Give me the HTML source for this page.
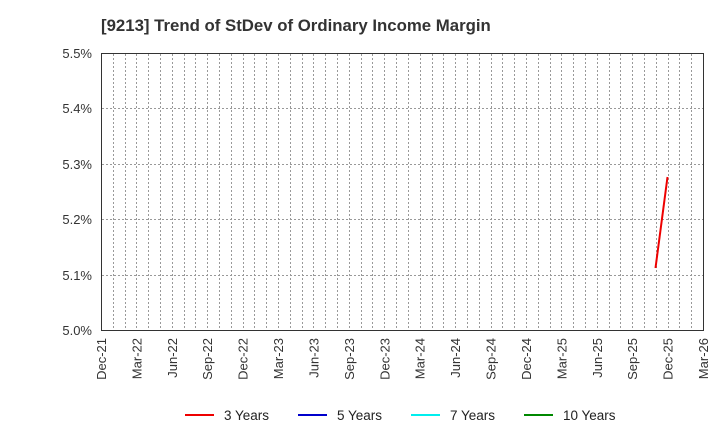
<!DOCTYPE html>
<html><head><style>body{margin:0;background:#fff}svg{display:block}</style></head><body>
<svg width="720" height="440" xmlns="http://www.w3.org/2000/svg" font-family="Liberation Sans, sans-serif">
<text x="101" y="31" font-size="16.8" font-weight="bold" fill="#333">[9213]  Trend of StDev of Ordinary Income Margin</text>
<g id="g"></g>
<rect x="101.5" y="53.5" width="602" height="277" fill="none" stroke="#333"/>
<g font-size="13" fill="#333" text-anchor="end">
<text x="92" y="58">5.5%</text><text x="92" y="113">5.4%</text><text x="92" y="169">5.3%</text><text x="92" y="224">5.2%</text><text x="92" y="280">5.1%</text><text x="92" y="335">5.0%</text>
</g>
<polyline points="655.5,268 667.5,177" fill="none" stroke="#e00" stroke-width="2"/>
<g font-size="13.5" fill="#222">
<line x1="185" y1="415" x2="214" y2="415" stroke="#e00" stroke-width="2"/><text x="224" y="420">3 Years</text>
<line x1="298" y1="415" x2="327" y2="415" stroke="#00c" stroke-width="2"/><text x="337" y="420">5 Years</text>
<line x1="411" y1="415" x2="440" y2="415" stroke="#0ee" stroke-width="2"/><text x="450" y="420">7 Years</text>
<line x1="524" y1="415" x2="553" y2="415" stroke="#080" stroke-width="2"/><text x="563" y="420">10 Years</text>
</g>
<g id="xl" font-size="13" fill="#333" text-anchor="end"></g>
</svg>
<script>
var ns="http://www.w3.org/2000/svg",g=document.getElementById("g"),xl=document.getElementById("xl");
function L(x1,y1,x2,y2){var l=document.createElementNS(ns,"line");l.setAttribute("x1",x1);l.setAttribute("y1",y1);l.setAttribute("x2",x2);l.setAttribute("y2",y2);l.setAttribute("stroke","#999");l.setAttribute("stroke-dasharray","2,2");g.appendChild(l);}
var w=602/51;
for(var i=1;i<51;i++){var x=Math.round(101+i*w)+0.5;L(x,54,x,330);}
[108.5,164.5,219.5,275.5].forEach(function(y){L(102,y,703,y);});
var labs=["Dec-21","Mar-22","Jun-22","Sep-22","Dec-22","Mar-23","Jun-23","Sep-23","Dec-23","Mar-24","Jun-24","Sep-24","Dec-24","Mar-25","Jun-25","Sep-25","Dec-25","Mar-26"];
labs.forEach(function(s,i){var x=101+i*3*w+5;var t=document.createElementNS(ns,"text");t.setAttribute("transform","translate("+x+",338) rotate(-90)");t.textContent=s;xl.appendChild(t);});
</script>
</body></html>
